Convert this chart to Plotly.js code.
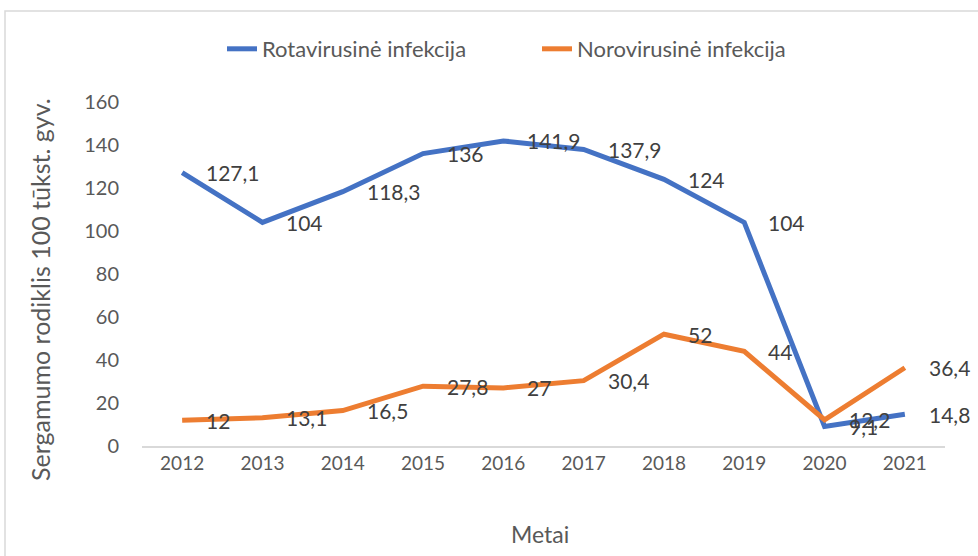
<!DOCTYPE html>
<html><head><meta charset="utf-8">
<script src="https://cdn.plot.ly/plotly-3.0.1.min.js"></script>
<style>html,body{margin:0;padding:0;background:#fff}#c{width:978px;height:556px}</style>
</head><body><div id="c"></div>
<script>
const years = ['2012','2013','2014','2015','2016','2017','2018','2019','2020','2021'];
const rota = [127.1,104,118.3,136,141.9,137.9,124,104,9.1,14.8];
const noro = [12,13.1,16.5,27.8,27,30.4,52,44,12.2,36.4];
const rotaName = 'Rotavirusinė infekcija';
const noroName = 'Norovirusinė infekcija';
const yTitle = 'Sergamumo rodiklis 100 tūkst. gyv.';
const xTitle = 'Metai';
const fmt = v => String(v).replace('.', ',');
const F = 'Lato, "Open Sans", sans-serif';
const txtColor = '#404040';
const axColor = '#595959';
const L = 142, R = 33, T = 102, B = 110;
const pw = 978 - L - R, ph = 556 - T - B;
const px = p => (p - L) / pw;
const py = p => (556 - B - p) / ph;
const traces = [
  {x: years, y: rota, name: rotaName, type: 'scatter', mode: 'lines',
   line: {color: '#4472C4', width: 5}},
  {x: years, y: noro, name: noroName, type: 'scatter', mode: 'lines',
   line: {color: '#ED7D31', width: 5}}
];
const labelAnn = (ys) => ys.map((v, i) => ({
  x: i, y: v, xref: 'x', yref: 'y', text: fmt(v), showarrow: false,
  xanchor: 'left', yanchor: 'middle', xshift: 22, yshift: 0,
  font: {family: F, size: 21, color: txtColor}
}));
const layout = {
  width: 978, height: 556,
  margin: {l: L, r: R, t: T, b: B},
  paper_bgcolor: '#fff', plot_bgcolor: '#fff',
  font: {family: F, color: axColor},
  showlegend: true,
  legend: {orientation: 'h', x: px(222), xanchor: 'left', y: py(49), yanchor: 'middle',
    font: {family: F, size: 22, color: axColor}, entrywidth: 270, entrywidthmode: 'pixels', tracegroupgap: 0},
  xaxis: {type: 'category', range: [-0.5, years.length - 0.5], autorange: false,
    showgrid: false, zeroline: false, showline: true,
    linecolor: '#d9d9d9', linewidth: 1.5, ticks: '',
    tickfont: {family: F, size: 19, color: axColor}},
  yaxis: {range: [0, 160], autorange: false, dtick: 20, showgrid: false, zeroline: false, showline: false, ticks: '',
    tickfont: {family: F, size: 20, color: axColor}, ticklabelstandoff: 22},
  annotations: [
    ...labelAnn(rota), ...labelAnn(noro),
    {text: yTitle, xref: 'paper', yref: 'paper', x: px(40), y: py(290), textangle: -90,
     showarrow: false, xanchor: 'center', yanchor: 'middle', font: {family: F, size: 25, color: axColor}},
    {text: xTitle, xref: 'paper', yref: 'paper', x: px(540), y: py(534),
     showarrow: false, xanchor: 'center', yanchor: 'middle', font: {family: F, size: 23, color: axColor}}
  ],
  shapes: [{type: 'rect', xref: 'paper', yref: 'paper', x0: px(5), x1: px(1000), y0: py(600), y1: py(11),
    line: {color: '#d9d9d9', width: 1.5}, fillcolor: 'rgba(0,0,0,0)', layer: 'below'}]
};
Plotly.newPlot('c', traces, layout, {displayModeBar: false, staticPlot: true});
</script></body></html>
